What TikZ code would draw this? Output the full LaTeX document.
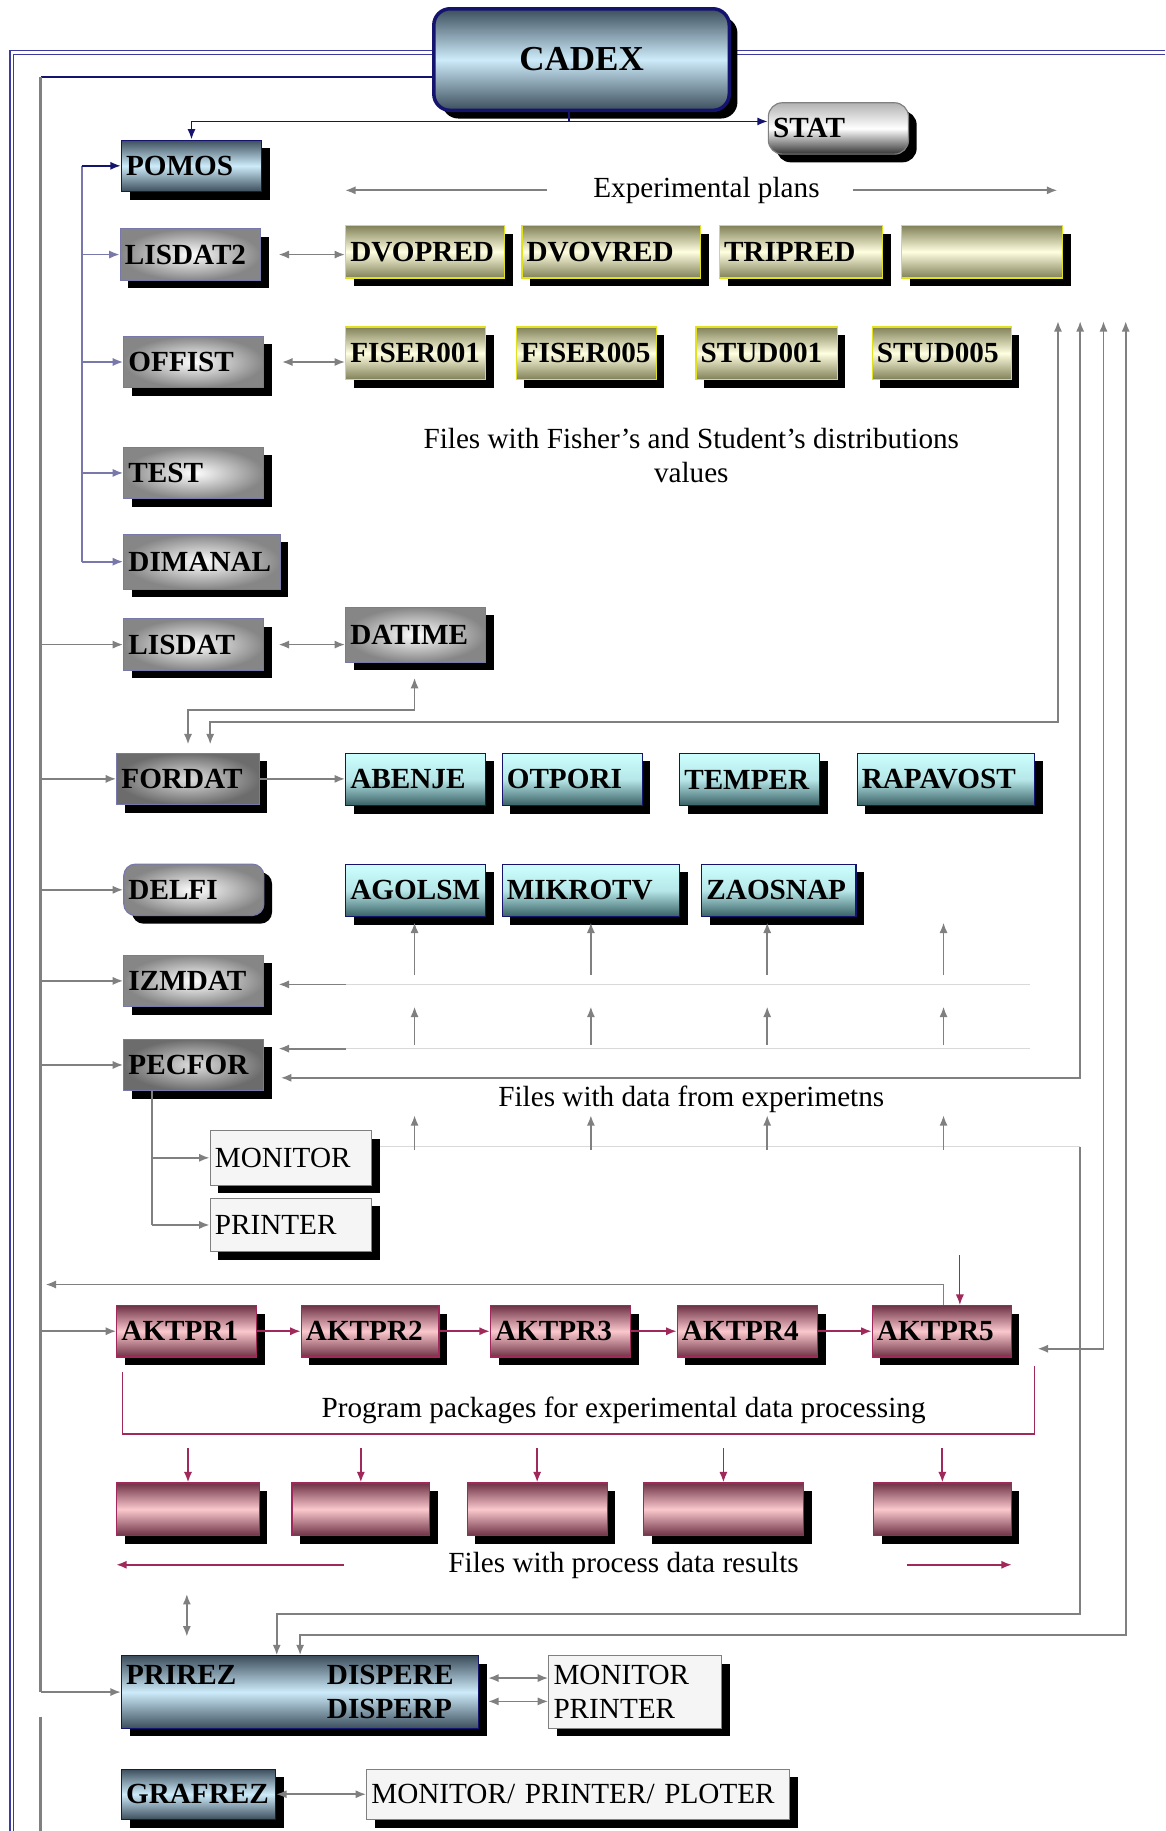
\documentclass[tikz,border=0pt]{standalone}
\usepackage{fontspec}
\setmainfont{Liberation Serif}
\usetikzlibrary{arrows.meta,shadows}

\definecolor{navy}{RGB}{20,20,110}
\definecolor{frameblue}{RGB}{60,60,160}
\definecolor{lav}{RGB}{120,120,170}
\definecolor{slate}{RGB}{60,78,92}
\definecolor{lightblue}{RGB}{205,235,250}
\definecolor{olive}{RGB}{128,128,88}
\definecolor{cream}{RGB}{255,255,225}
\definecolor{yelline}{RGB}{225,225,30}
\definecolor{tealdark}{RGB}{55,95,100}
\definecolor{cyanlight}{RGB}{205,255,255}
\definecolor{mauve}{RGB}{110,50,70}
\definecolor{pinklight}{RGB}{250,200,205}
\definecolor{pinkline}{RGB}{160,40,90}
\definecolor{arrgray}{RGB}{128,128,128}

\newcommand{\lblfont}{\fontsize{25}{29}\selectfont}

\tikzset{
  shad/.style={drop shadow={shadow xshift=7pt,shadow yshift=-7pt,opacity=1,fill=black}},
  box/.style={rectangle,line width=1pt,minimum height=44pt,inner xsep=4pt,inner ysep=1pt,
    text width=112pt,align=left,font=\lblfont\bfseries,shad},
  bluebox/.style={box,draw=navy,top color=slate,bottom color=slate,middle color=lightblue},
  graybox/.style={box,draw=lav,inner color=white,outer color=gray!95},
  statbox/.style={box,draw=gray,top color=gray!60,bottom color=gray!40!black,middle color=white},
  yelbox/.style={box,draw=yelline,minimum height=45pt,top color=olive,bottom color=olive,middle color=cream},
  cyanbox/.style={box,draw=navy,minimum height=45pt,top color=cyanlight,bottom color=tealdark,middle color=cyanlight!85!tealdark},
  pinkbox/.style={box,draw=pinkline,top color=mauve,bottom color=mauve,middle color=pinklight},
  whitebox/.style={box,draw=gray,fill=gray!8,font=\lblfont},
  lbl/.style={font=\lblfont,align=center},
  garrow/.style={draw=arrgray,line width=1.5pt,-{Latex[length=9pt,width=7pt]}},
  garrows/.style={draw=arrgray,line width=1.5pt,{Latex[length=9pt,width=7pt]}-{Latex[length=9pt,width=7pt]}},
  gline/.style={draw=arrgray,line width=1.5pt},
  faint/.style={draw=gray!30,line width=1pt},
  narrow/.style={draw=navy,line width=1.5pt,-{Latex[length=9pt,width=7pt]}},
  brarrow/.style={draw=lav,line width=1.5pt,-{Latex[length=9pt,width=7pt]}},
  parrow/.style={draw=pinkline,line width=1.5pt,-{Latex[length=9pt,width=7pt]}},
  pline/.style={draw=pinkline,line width=1.5pt},
}

\begin{document}
\begin{tikzpicture}[x=1pt,y=-1pt]
\useasboundingbox (0,0) rectangle (998,1568);

\draw[frameblue,double=white,double distance=2pt,line width=1pt] (998,45) -- (10,45) -- (10,1568);

% top
\node[bluebox,rounded corners=14pt,line width=3pt,text width=245pt,minimum height=87pt,align=center,
  font=\fontsize{30}{34}\selectfont\bfseries] (cadex) at (498,51) {CADEX};
\node[statbox,rounded corners=12pt] (stat) at (718,110) {STAT};

% left column
\node[bluebox] (pomos) at (164,142) {POMOS};
\node[graybox] (lisdat2) at (163,218) {LISDAT2};
\node[graybox] (offist) at (166,310) {OFFIST};
\node[graybox] (test) at (166,405) {TEST};
\node[graybox,text width=126pt,minimum height=47pt] (dimanal) at (173,481) {DIMANAL};
\node[graybox] (lisdat) at (166,552) {LISDAT};
\node[graybox,text width=114pt,inner color=gray!25,outer color=gray!85!black] (fordat) at (161,667) {FORDAT};
\node[graybox,rounded corners=10pt] (delfi) at (166,762) {DELFI};
\node[graybox] (izmdat) at (166,840) {IZMDAT};
\node[graybox,inner color=gray!25,outer color=gray!85!black] (pecfor) at (166,912) {PECFOR};

% experimental plans
\node[lbl] (plans) at (605,163) {Experimental plans};
\node[yelbox,text width=128pt] (dvopred) at (364,215.5) {DVOPRED};
\node[yelbox,text width=145pt] (dvovred) at (523.5,215.5) {DVOVRED};
\node[yelbox,text width=132pt] (tripred) at (686,215.5) {TRIPRED};
\node[yelbox,text width=130pt] (plan4) at (841,215.5) {};
\node[yelbox] (fiser001) at (356,302.5) {FISER001};
\node[yelbox] (fiser005) at (502,302.5) {FISER005};
\node[yelbox,text width=113pt] (stud001) at (656.5,302.5) {STUD001};
\node[yelbox,text width=111pt] (stud005) at (806.5,302.5) {STUD005};
\node[lbl] (fisher) at (592,390) {Files with Fisher's and Student's distributions\\values};

\node[graybox,minimum height=47pt] (datime) at (356,543.5) {DATIME};

% experiment files
\node[cyanbox] (abenje) at (356,667.5) {ABENJE};
\node[cyanbox] (otpori) at (490,667.5) {OTPORI};
\node[cyanbox] (temper) at (642,667.5) {TEMPER};
\node[cyanbox,text width=144pt] (rapavost) at (810,667.5) {RAPAVOST};
\node[cyanbox] (agolsm) at (356,762.5) {AGOLSM};
\node[cyanbox,text width=144pt] (mikrotv) at (506,762.5) {MIKROTV};
\node[cyanbox,text width=124pt] (zaosnap) at (667,762.5) {ZAOSNAP};
\node[lbl] (expfiles) at (592,941) {Files with data from experimetns};

\node[whitebox,text width=130pt,minimum height=47pt] (monitor1) at (249,991.5) {MONITOR};
\node[whitebox,text width=130pt,minimum height=46pt] (printer1) at (249,1049) {PRINTER};

% processing
\node[pinkbox] (aktpr1) at (160,1140) {AKTPR1};
\node[pinkbox,text width=110pt] (aktpr2) at (317,1140) {AKTPR2};
\node[pinkbox] (aktpr3) at (480,1140) {AKTPR3};
\node[pinkbox] (aktpr4) at (640,1140) {AKTPR4};
\node[pinkbox,text width=111pt] (aktpr5) at (806.5,1140) {AKTPR5};
\node[lbl] (progpack) at (534,1208) {Program packages for experimental data processing};

\node[pinkbox,text width=114pt,minimum height=45pt] (res1) at (161,1292.5) {};
\node[pinkbox,text width=110pt,minimum height=45pt] (res2) at (309,1292.5) {};
\node[pinkbox,text width=112pt,minimum height=45pt] (res3) at (460,1292.5) {};
\node[pinkbox,text width=129pt,minimum height=45pt] (res4) at (619.5,1292.5) {};
\node[pinkbox,text width=110pt,minimum height=45pt] (res5) at (807,1292.5) {};
\node[lbl] (resfiles) at (534,1341) {Files with process data results};

% results
\node[bluebox,text width=298pt,minimum height=62pt] (prirez) at (257,1449)
  {\makebox[172pt][l]{PRIREZ}DISPERE\\\hspace*{172pt}DISPERP};
\node[whitebox,text width=140pt,minimum height=62pt] (monpr) at (544,1449) {MONITOR\\PRINTER};
\node[bluebox,text width=124pt,minimum height=43pt] (grafrez) at (170,1536.5) {GRAFREZ};
\node[whitebox,text width=354pt,minimum height=43pt] (mpp) at (495,1536.5) {MONITOR/ PRINTER/ PLOTER};

% cadex links
\coordinate (split) at (487,104);
\draw[navy,line width=1.5pt] (split |- cadex.south) -- (split);
\draw[narrow] (split) -- (split -| stat.west);
\draw[narrow] (split) -| (pomos.north);

\coordinate (brk) at (70,144);
\draw[lav,line width=1.5pt] (brk |- pomos.west) -- (brk |- dimanal.west);
\draw[narrow] (brk |- pomos.west) -- (pomos.west);
\foreach \b in {lisdat2,offist,test,dimanal}
  \draw[brarrow] (brk |- \b.west) -- (\b.west);

\coordinate (bus) at (35,66);
\draw[navy,line width=1.5pt] (cadex.west |- bus) -- (bus);
\draw[gline,line width=2.5pt] (bus) -- (bus |- prirez.west);
\coordinate (tail) at (35,1470);
\draw[gline,line width=2.5pt] (tail) -- (35,1568);
\foreach \b in {lisdat,fordat,delfi,izmdat,pecfor,aktpr1,prirez}
  \draw[garrow] (bus |- \b.west) -- (\b.west);

% plans and distributions
\draw[garrow,shorten <=36pt] (plans.west) -- (plans.west -| dvopred.west);
\draw[garrow,shorten <=25pt,shorten >=5pt] (plans.east) -- (plans.east -| plan4.east);
\draw[garrows,shorten <=15pt] (lisdat2.east) -- (lisdat2.east -| dvopred.west);
\draw[garrows,shorten <=15pt] (offist.east) -- (offist.east -| fiser001.west);
\draw[garrows,shorten <=12pt] (lisdat.east) -- (lisdat.east -| datime.west);
\draw[garrow] (fordat.east) -- (fordat.east -| abenje.west);

\coordinate (dt) at (355,608);
\draw[garrow,shorten >=13pt] (dt) -- (dt |- datime.south);
\draw[garrow,shorten >=7pt] (dt) -| (fordat.north);

% right risers
\coordinate (r1) at (906,275);
\coordinate (r2) at (925,275);
\coordinate (r3) at (945,275);
\coordinate (r4) at (964,275);
\coordinate (fd) at (180,618);
\draw[garrows,shorten >=7pt] (r1) -- (r1 |- fd) -- (fd) -- (fd |- fordat.north);
\coordinate (pc) at (925,923);
\draw[garrows,shorten >=14pt] (r2) -- (pc) -- (pc -| pecfor.east);
\coordinate (ak) at (945,1155);
\draw[garrows,shorten >=22pt] (r3) -- (ak) -- (ak -| aktpr5.east);
\coordinate (pz) at (964,1400);
\coordinate (pzl) at (257,1400);
\draw[garrows] (r4) -- (pz) -- (pzl) -- (pzl |- prirez.north);

\coordinate (mn) at (925,982);
\coordinate (mnl) at (237,1382);
\draw[faint,shorten <=7pt] (monitor1.east |- mn) -- (mn);
\draw[garrow] (mn) -- (mn |- mnl) -- (mnl) -- (mnl |- prirez.north);

% experiment data flow
\foreach \x in {355,506,657,808} {
  \draw[garrow] (\x,835) -- (\x,790);
  \draw[garrow] (\x,895) -- (\x,862);
  \draw[garrow] (\x,985) -- (\x,955);
}
\coordinate (iz) at (296,843);
\coordinate (pf) at (296,898);
\draw[faint] (iz) -- ++(586,0);
\draw[faint] (pf) -- ++(586,0);
\draw[garrow,shorten >=12pt] (iz) -- (iz -| izmdat.east);
\draw[garrow,shorten >=12pt] (pf) -- (pf -| pecfor.east);

\coordinate (pv) at (130,1049);
\draw[gline] (pv |- pecfor.south) -- (pv);
\draw[garrow] (pv |- monitor1.west) -- (monitor1.west);
\draw[garrow] (pv) -- (printer1.west);

% processing chain
\coordinate (ret) at (808,1100);
\draw[garrow,shorten >=4pt] (aktpr5.north -| ret) -- (ret) -- (bus |- ret);
\coordinate (pdown) at (822,1075);
\draw[parrow,line width=1pt] (pdown) -- (pdown |- aktpr5.north);
\foreach \a/\b in {aktpr1/aktpr2,aktpr2/aktpr3,aktpr3/aktpr4,aktpr4/aktpr5}
  \draw[parrow] (\a.east) -- (\b.west);

\coordinate (pb) at (105,1228);
\coordinate (pe) at (886,1228);
\draw[pline] (pb |- aktpr1.south) ++(0,12) -- (pb) -- (pe) -- ++(0,-58);
\foreach \r in {res1,res2,res3,res4,res5}
  \draw[parrow] (\r.north |- pb) ++(0,12) -- (\r.north);

\coordinate (rl) at (295,1340);
\coordinate (rr) at (777,1340);
\draw[parrow] (rl) -- (rl -| res1.west);
\draw[parrow] (rr) -- (rr -| res5.east);

% output
\coordinate (upd) at (160,1365);
\draw[garrows,shorten >=16pt] (upd) -- (upd |- prirez.north);
\coordinate (d1) at (418,1437);
\coordinate (d2) at (418,1457);
\draw[garrows] (d1) -- (d1 -| monpr.west);
\draw[garrows] (d2) -- (d2 -| monpr.west);
\draw[garrows] (grafrez.east) -- (mpp.west);
\end{tikzpicture}
\end{document}
